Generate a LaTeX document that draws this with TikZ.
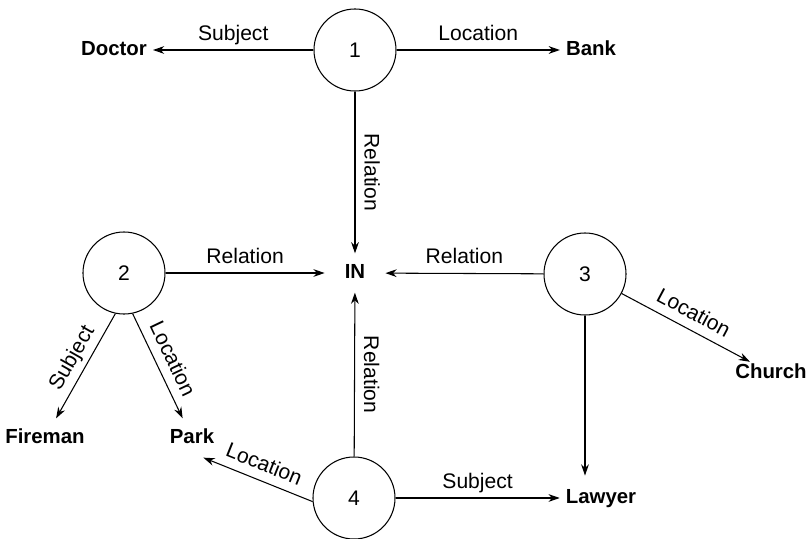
\documentclass[tikz,border=0pt]{standalone}
\usepackage{fontspec}
\setmainfont{Liberation Sans}
\usetikzlibrary{arrows.meta}

\begin{document}
\begin{tikzpicture}[x=0.025cm, y=-0.025cm, line width=0.75pt,
    font=\fontsize{15}{18}\selectfont,
    state/.style={circle, draw, minimum size=2.05cm, inner sep=0pt},
    term/.style={font=\fontsize{14.5}{17}\selectfont\bfseries, inner sep=4pt,
      text height=0.72em, text depth=0pt},
    lbl/.style={inner sep=6.5pt, text depth=0pt},
    link/.style={-{Stealth[length=8pt,width=5.5pt]}}]
    \useasboundingbox (0,0) rectangle (811,539);

    % frames
    \node[state] (s1) at (355,50) {1};
    \node[state] (s2) at (124,273) {2};
    \node[state] (s3) at (585,274) {3};
    \node[state] (s4) at (354,498) {4};

    % values
    \node[term] (doctor) at (114,50) {Doctor};
    \node[term] (bank) at (591,50) {Bank};
    \node[term, inner xsep=14pt, inner ysep=10pt] (in) at (355,273) {IN};
    \node[term] (church) at (771,373) {Church};
    \node[term, inner ysep=10pt] (fireman) at (45,438) {Fireman};
    \node[term, inner ysep=10pt] (park) at (192,438) {Park};
    \node[term, inner ysep=12pt] (lawyer) at (601,498) {Lawyer};

    % slots
    \draw[link] (s1) -- node[lbl, above] {Subject} (doctor);
    \draw[link] (s1) -- node[lbl, above] {Location} (bank);
    \draw[link] (s1) -- node[lbl, rotate=-90, anchor=south] {Relation} (in);
    \draw[link] (s2) -- node[lbl, above] {Relation} (in);
    \draw[link] (s3) -- node[lbl, above] {Relation} (in);
    \draw[link] (s4) -- node[lbl, rotate=-90, anchor=south] {Relation} (in);
    \draw[link] (s2.-102) -- node[lbl, above, sloped] {Subject} (fireman);
    \draw[link] (s2.-78) -- node[lbl, above, sloped] {Location} (park);
    \draw[link] (s3) -- node[lbl, above, sloped] {Location} (church);
    \draw[link] (s3) -- (s3 |- lawyer.north);
    \draw[link] (s4) -- node[lbl, above] {Subject} (lawyer);
    \draw[link] (s4.185) -- node[lbl, above, sloped] {Location} (park.-60);
\end{tikzpicture}
\end{document}
